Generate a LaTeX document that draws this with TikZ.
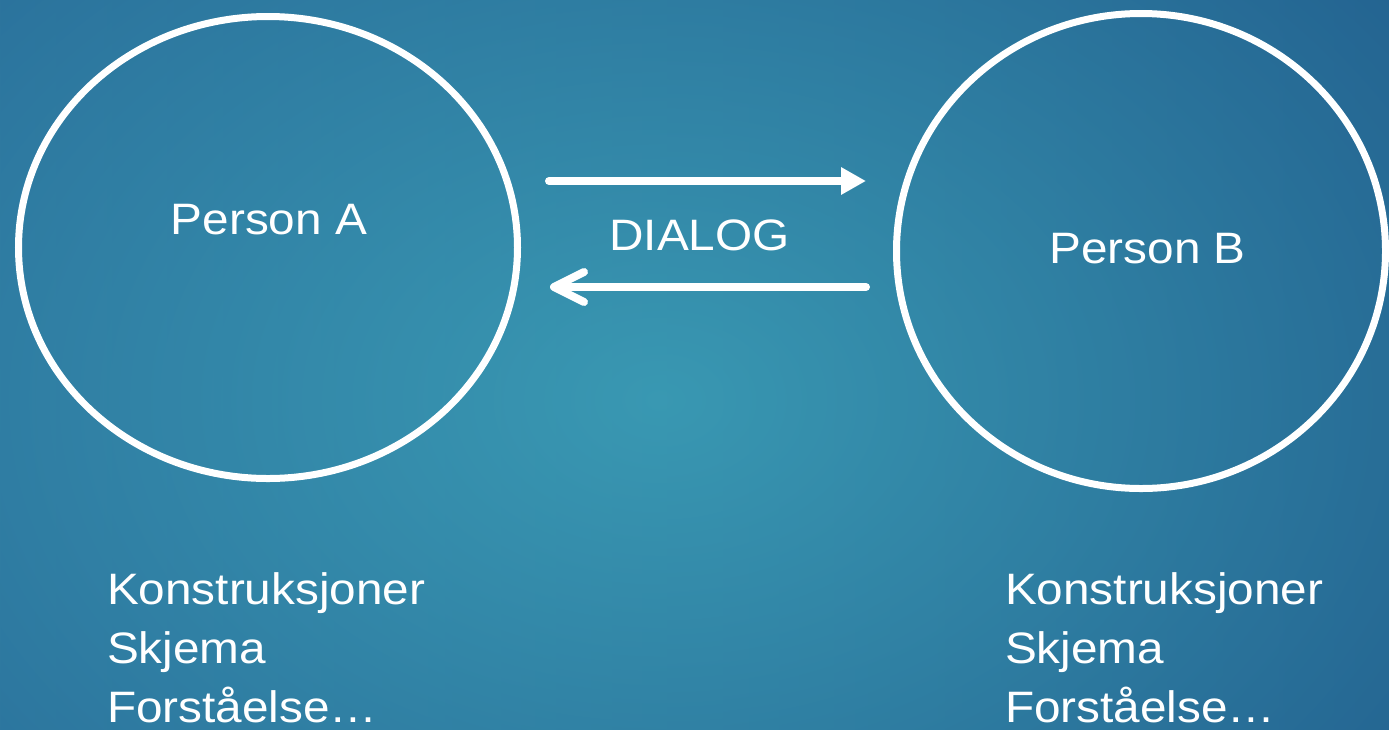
\documentclass[tikz,border=0pt]{standalone}
\usepackage{fontspec}
\usepackage{graphicx}
\setmainfont{Liberation Sans}
\usetikzlibrary{arrows.meta,shapes.geometric}
\definecolor{radIn}{RGB}{78,210,212}
\definecolor{radOutA}{RGB}{30,88,138}
\definecolor{radOutB}{RGB}{24,72,125}
\definecolor{linL}{RGB}{50,120,165}
\definecolor{linR}{RGB}{24,70,125}
\pgfdeclareradialshading{bgrad}{\pgfpointorigin}{color(0bp)=(radIn); color(22bp)=(radOutA); color(31bp)=(radOutB); color(100bp)=(radOutB)}
\pgfdeclarehorizontalshading{bglin}{100bp}{color(0bp)=(linL); color(100bp)=(linR)}
\tikzset{
  txt/.style={text=white, font=\fontsize{44}{50}\selectfont, inner sep=0pt, outer sep=0pt},
  circ/.style={ellipse, draw=white, line width=7pt, inner sep=0pt, outer sep=0pt},
  arr/.style={draw=white, line width=8pt, line cap=round},
}
\newcommand{\wide}[1]{\scalebox{1.085}[1]{#1}}
\begin{document}
\begin{tikzpicture}[x=1pt,y=-1pt]
\useasboundingbox (0,0) rectangle (1389,729);
\begin{scope}
  \clip (0,0) rectangle (1389,729);
  \shade[shading=bgrad] (-740,-600) rectangle (2060,1400);
  \shade[shading=bglin, opacity=0.5] (0,0) rectangle (1389,729);
\end{scope}
% circles
\node[circ, minimum width=499pt, minimum height=462pt] (circA) at (268,247.5) {};
\node[circ, minimum width=489pt, minimum height=475pt] (circB) at (1141,251) {};
% labels
\node[txt, anchor=base] (labA) at (269,234) {\wide{Person A}};
\node[txt, anchor=base] (labB) at (1147.5,263) {\wide{Person B}};
\node[txt, anchor=base] (dialog) at (699.5,250) {\wide{DIALOG}};
% arrows
\coordinate (a1s) at (549,181);
\coordinate (a1e) at (866,181);
\coordinate (a2s) at (866,287);
\coordinate (a2e) at (550,287);
\draw[arr, -{Triangle[length=25pt,width=26pt]}] (a1s) -- (a1e);
\draw[arr, -{Straight Barb[length=30pt,width=30pt,round]}] (a2s) -- (a2e);
% lists
\node[txt, anchor=base west] (lA1) at (107,604) {\wide{Konstruksjoner}};
\node[txt, anchor=base west] (lA2) at (107,663) {\wide{Skjema}};
\node[txt, anchor=base west] (lA3) at (107,722) {\wide{Forståelse…}};
\node[txt, anchor=base west] (lB1) at (1005,604) {\wide{Konstruksjoner}};
\node[txt, anchor=base west] (lB2) at (1005,663) {\wide{Skjema}};
\node[txt, anchor=base west] (lB3) at (1005,722) {\wide{Forståelse…}};
\end{tikzpicture}
\end{document}
